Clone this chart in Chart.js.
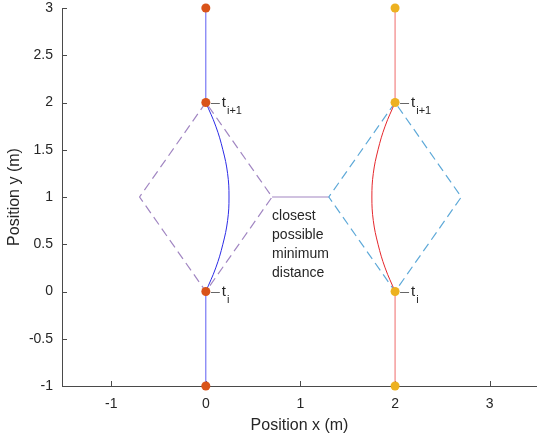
<!DOCTYPE html>
<html>
<head>
<meta charset="utf-8">
<script src="https://cdn.jsdelivr.net/npm/chart.js@4.4.1/dist/chart.umd.min.js"></script>
<style>
  html, body { margin: 0; padding: 0; background: #fff; }
</style>
</head>
<body>
<canvas id="trajChart" width="537" height="439"></canvas>
<script>
// axis ticks
const xTicks = [-1, 0, 1, 2, 3];
const yTicks = [-1, -0.5, 0, 0.5, 1, 1.5, 2, 2.5, 3];

// sampled positions of the two agents
const agentAX = [0, 0, 0, 0];
const agentAY = [-1, 0, 2, 3];
const agentBX = [2, 2, 2, 2];
const agentBY = [-1, 0, 2, 3];

// curved paths between t_i and t_i+1
const curveY  = [0, 0.25, 0.5, 0.75, 1, 1.25, 1.5, 1.75, 2];
const curveAX = [0, 0.105, 0.18, 0.23, 0.245, 0.23, 0.18, 0.105, 0];
const curveBX = [2, 1.895, 1.82, 1.77, 1.755, 1.77, 1.82, 1.895, 2];

// reachable sets (dashed diamonds)
const diamondY  = [2, 1, 0, 1, 2];
const diamondAX = [0, -0.7, 0, 0.7, 0];
const diamondBX = [2, 1.3, 2, 2.7, 2];

// gap between the two sets
const gapX = [0.7, 1.3];
const gapY = [1, 1];

// annotations
const markLabels = [
  { x: 0, y: 2, sub: 'i+1' },
  { x: 0, y: 0, sub: 'i' },
  { x: 2, y: 2, sub: 'i+1' },
  { x: 2, y: 0, sub: 'i' }
];
const noteLines = ['closest', 'possible', 'minimum', 'distance'];
const notePos = { x: 0.7, y: 0.8 };

const FONT = "'Liberation Sans', Arial, sans-serif";
const axisColor = '#4a4a4a';
const textColor = '#262626';

const pts = (xs, ys) => xs.map((v, i) => ({ x: v, y: ys[i] }));
const seg = (xs, ys, a, b) => [{ x: xs[a], y: ys[a] }, { x: xs[b], y: ys[b] }];

function line(data, color, extra) {
  return Object.assign({
    data: data,
    showLine: true,
    borderColor: color,
    borderWidth: 1,
    pointRadius: 0,
    fill: false,
    clip: false
  }, extra || {});
}

const decor = {
  id: 'decor',
  beforeDatasetsDraw(chart) {
    // inward tick marks like matlab
    const { ctx, scales: { x, y } } = chart;
    ctx.save();
    ctx.strokeStyle = axisColor;
    ctx.lineWidth = 1;
    ctx.beginPath();
    xTicks.forEach(v => {
      const px = Math.round(x.getPixelForValue(v)) + 0.5;
      ctx.moveTo(px, y.bottom);
      ctx.lineTo(px, y.bottom - 5);
    });
    yTicks.forEach(v => {
      const py = Math.round(y.getPixelForValue(v)) + 0.5;
      ctx.moveTo(x.left, py);
      ctx.lineTo(x.left + 5, py);
    });
    ctx.stroke();
    ctx.restore();
  },
  afterDatasetsDraw(chart) {
    const { ctx, scales: { x, y } } = chart;
    ctx.save();
    markLabels.forEach(m => {
      const px = x.getPixelForValue(m.x);
      const py = y.getPixelForValue(m.y);
      ctx.strokeStyle = '#666';
      ctx.lineWidth = 1;
      ctx.beginPath();
      ctx.moveTo(px + 5, Math.round(py) + 0.5);
      ctx.lineTo(px + 14, Math.round(py) + 0.5);
      ctx.stroke();
      ctx.fillStyle = textColor;
      ctx.textAlign = 'left';
      ctx.textBaseline = 'alphabetic';
      ctx.font = '15px ' + FONT;
      ctx.fillText('t', px + 16, py + 4);
      const tw = ctx.measureText('t').width;
      ctx.font = '11px ' + FONT;
      ctx.fillText(m.sub, px + 17 + tw, py + 11);
    });
    ctx.font = '14px ' + FONT;
    ctx.fillStyle = textColor;
    ctx.textBaseline = 'middle';
    const nx = x.getPixelForValue(notePos.x);
    const ny = y.getPixelForValue(notePos.y);
    noteLines.forEach((t, i) => ctx.fillText(t, nx, ny + i * 19));
    ctx.restore();
  }
};

new Chart(document.getElementById('trajChart').getContext('2d'), {
  type: 'scatter',
  data: {
    datasets: [
      { data: pts(agentAX, agentAY), backgroundColor: '#D95319', pointRadius: 4.5, pointBorderWidth: 0, clip: false, order: 0 },
      { data: pts(agentBX, agentBY), backgroundColor: '#EDB120', pointRadius: 4.5, pointBorderWidth: 0, clip: false, order: 0 },
      line(seg(agentAX, agentAY, 0, 1), '#5c5cf2', { order: 2 }),
      line(seg(agentAX, agentAY, 2, 3), '#5c5cf2', { order: 2 }),
      line(pts(curveAX, curveY), '#2b2be6', { tension: 0.4, order: 1 }),
      line(seg(agentBX, agentBY, 0, 1), '#ef6b6b', { order: 2 }),
      line(seg(agentBX, agentBY, 2, 3), '#ef6b6b', { order: 2 }),
      line(pts(curveBX, curveY), '#e5262b', { tension: 0.4, order: 1 }),
      line(pts(diamondAX, diamondY), '#a186c2', { borderDash: [9, 5], borderWidth: 1.2, order: 3 }),
      line(pts(diamondBX, diamondY), '#5ea9d8', { borderDash: [9, 5], borderWidth: 1.2, order: 3 }),
      line(pts(gapX, gapY), '#a186c2', { borderWidth: 1.2, order: 3 })
    ]
  },
  options: {
    responsive: false,
    animation: false,
    events: [],
    layout: { autoPadding: false, padding: { top: 8, right: 0, left: 0, bottom: 0 } },
    plugins: {
      legend: { display: false },
      tooltip: { enabled: false }
    },
    scales: {
      x: {
        type: 'linear',
        position: 'bottom',
        min: -1.52,
        max: 3.5,
        afterBuildTicks: s => { s.ticks = xTicks.map(v => ({ value: v })); },
        afterFit: s => { s.height = 53; s.paddingLeft = 0; s.paddingRight = 0; },
        grid: { drawOnChartArea: false, drawTicks: false },
        border: { color: axisColor, width: 1 },
        ticks: { padding: 10, color: textColor, font: { family: FONT, size: 14 }, callback: v => String(v) },
        title: {
          display: true,
          text: 'Position x (m)',
          color: textColor,
          font: { family: FONT, size: 16 },
          padding: { top: 0, bottom: 4 }
        }
      },
      y: {
        type: 'linear',
        min: -1,
        max: 3,
        afterBuildTicks: s => { s.ticks = yTicks.map(v => ({ value: v })); },
        afterFit: s => { s.width = 62; s.paddingTop = 0; s.paddingBottom = 0; },
        grid: { drawOnChartArea: false, drawTicks: false },
        border: { color: axisColor, width: 1 },
        ticks: { padding: 9, color: textColor, font: { family: FONT, size: 14 }, callback: v => String(v) },
        title: {
          display: true,
          text: 'Position y (m)',
          color: textColor,
          font: { family: FONT, size: 16 },
          padding: { top: 5, bottom: 0 }
        }
      }
    }
  },
  plugins: [decor]
});
</script>
</body>
</html>
